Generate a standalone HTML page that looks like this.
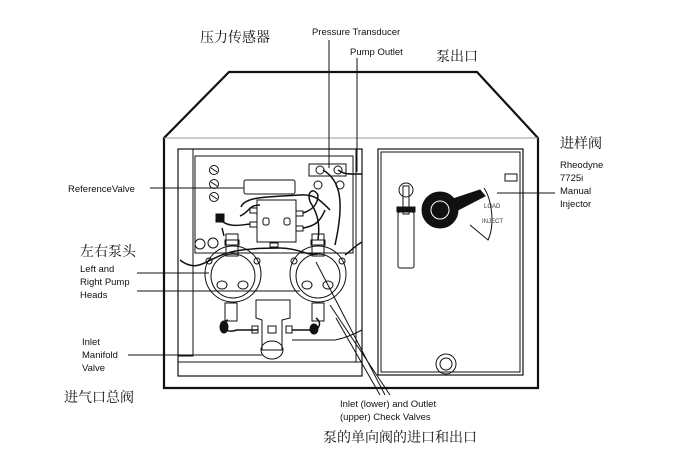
<!DOCTYPE html>
<html><head><meta charset="utf-8"><style>
html,body{margin:0;padding:0;background:#fff}
svg{display:block}
.t{font-family:"Liberation Sans",sans-serif;font-size:9.5px;fill:#111}
.s{font-family:"Liberation Sans",sans-serif;font-size:6px;fill:#333}
.c{font-family:"Liberation Serif","Noto Serif CJK SC",serif;font-size:14px;fill:#111}
</style></head><body>
<svg width="693" height="475" viewBox="0 0 693 475" xmlns="http://www.w3.org/2000/svg">
<g fill="none" stroke="#111" stroke-width="1">
<path d="M164,388 L164,138 L229,72 L477,72 L538,138 L538,388 Z" stroke-width="2.2"/>
<path d="M164,138 L538,138" stroke="#999"/>
<rect x="178" y="149" width="184" height="227" stroke-width="1.2"/>
<path d="M193,149 L193,356 L178,356"/>
<path d="M178,362 L362,362"/>
<path d="M356,149 L356,362"/>
<rect x="195" y="156" width="158" height="97"/>
<rect x="378" y="149" width="145" height="226" stroke-width="1.2"/>
<rect x="381" y="152" width="139" height="220"/>
<rect x="505" y="174" width="12" height="7"/>
<circle cx="214" cy="170" r="4.5"/><circle cx="214" cy="184" r="4.5"/><circle cx="214" cy="197" r="4.5"/>
<path d="M211,168 L217,172 M211,182 L217,186 M211,195 L217,199"/>
<rect x="244" y="180" width="51" height="14" rx="2"/>
<rect x="257" y="200" width="39" height="42"/>
<rect x="263" y="218" width="6" height="7" rx="2"/><rect x="284" y="218" width="6" height="7" rx="2"/>
<rect x="250" y="208" width="7" height="5"/><rect x="250" y="222" width="7" height="5"/>
<rect x="296" y="211" width="7" height="5"/><rect x="296" y="226" width="7" height="5"/>
<rect x="309" y="164" width="37" height="12"/>
<circle cx="320" cy="170" r="4"/><circle cx="338" cy="170" r="4"/>
<circle cx="318" cy="185" r="4"/><circle cx="340" cy="185" r="4"/>
<rect x="270" y="243" width="8" height="4"/>
<g stroke-width="1.5">
<path d="M240,216 C250,212 248,205 260,205"/>
<path d="M220,220 C230,228 240,225 250,224"/>
<path d="M241,207 C245,196 270,197 300,195 C315,194 320,200 330,210"/>
<path d="M323,170 C340,180 345,200 335,245"/>
<path d="M338,170 C345,175 350,174 362,174"/>
<path d="M303,213 C312,210 318,205 318,195 C312,185 305,195 312,205 C318,215 320,225 318,240"/>
<path d="M303,228 C315,226 320,222 325,210"/>
<path d="M180,260 C195,272 205,262 215,258 C230,250 250,248 280,248 C300,248 310,258 320,253"/>
<path d="M345,255 C352,250 356,245 362,242"/>
<path d="M224,236 L222,228 M219,222 L224,216"/>
</g>
<rect x="216" y="214" width="8" height="8" fill="#111"/>
<circle cx="233" cy="274" r="28"/><circle cx="233" cy="276" r="22"/>
<circle cx="318" cy="274" r="28"/><circle cx="318" cy="276" r="22"/>
<ellipse cx="222" cy="285" rx="5" ry="4"/><ellipse cx="243" cy="285" rx="5" ry="4"/>
<ellipse cx="307" cy="285" rx="5" ry="4"/><ellipse cx="328" cy="285" rx="5" ry="4"/>
<circle cx="209" cy="261" r="3"/><circle cx="257" cy="261" r="3"/><circle cx="294" cy="261" r="3"/><circle cx="342" cy="261" r="3"/>
<circle cx="200" cy="244" r="5"/><circle cx="213" cy="243" r="5"/>
<rect x="226" y="234" width="12" height="22"/><rect x="225" y="240" width="14" height="5"/>
<rect x="312" y="234" width="12" height="22"/><rect x="311" y="240" width="14" height="5"/>
<rect x="225" y="303" width="12" height="18"/><rect x="312" y="303" width="12" height="18"/>
<path d="M256,300 L290,300 L290,318 L282,320 L282,350 L262,350 L262,320 L256,318 Z"/>
<ellipse cx="272" cy="350" rx="11" ry="9"/>
<rect x="268" y="326" width="8" height="7"/>
<rect x="252" y="326" width="6" height="7"/><rect x="286" y="326" width="6" height="7"/>
<path d="M258,330 L237,330 C222,335 220,322 228,320 M292,330 L312,330 C320,330 322,322 316,318" stroke-width="1.5"/>
<ellipse cx="224" cy="327" rx="4" ry="6" fill="#111"/><ellipse cx="314" cy="329" rx="4" ry="5" fill="#111"/>
<path d="M292,340 L335,340 C345,338 352,335 362,330"/>
<circle cx="406" cy="190" r="7"/>
<rect x="403" y="186" width="6" height="28"/>
<rect x="397" y="207" width="18" height="5" fill="#111"/>
<rect x="398" y="212" width="16" height="56" rx="2"/>
<circle cx="440" cy="210" r="18" fill="#111"/>
<circle cx="440" cy="210" r="9" stroke="#fff"/>
<path d="M450,200 L480,190 L485,196 L454,212 Z" fill="#111"/>
<path d="M484,188 C492,200 495,225 488,240 L470,225"/>
<circle cx="446" cy="364" r="10"/><circle cx="446" cy="364" r="6"/>
<path d="M329,40 L329,168 M357,58 L357,172 M150,188 L244,188 M497,193 L555,193 M137,273 L209,273 M137,291 L300,291 M128,355 L262,355 M385,395 L316,262 M380,395 L336,318 M390,395 L330,305"/>
</g>
<text class="s" x="484" y="208">LOAD</text>
<text class="s" x="482" y="223">INJECT</text>
<text class="c" x="200" y="42">压力传感器</text>
<text class="t" x="312" y="35">Pressure Transducer</text>
<text class="t" x="350" y="55">Pump Outlet</text>
<text class="c" x="436" y="61">泵出口</text>
<text class="c" x="560" y="148">进样阀</text>
<text class="t" x="560" y="168">Rheodyne</text>
<text class="t" x="560" y="181">7725i</text>
<text class="t" x="560" y="194">Manual</text>
<text class="t" x="560" y="207">Injector</text>
<text class="t" x="68" y="192">ReferenceValve</text>
<text class="c" x="80" y="256">左右泵头</text>
<text class="t" x="80" y="272">Left and</text>
<text class="t" x="80" y="285">Right Pump</text>
<text class="t" x="80" y="298">Heads</text>
<text class="t" x="82" y="345">Inlet</text>
<text class="t" x="82" y="358">Manifold</text>
<text class="t" x="82" y="371">Valve</text>
<text class="c" x="64" y="402">进气口总阀</text>
<text class="t" x="340" y="407">Inlet (lower) and Outlet</text>
<text class="t" x="340" y="420">(upper) Check Valves</text>
<text class="c" x="323" y="442">泵的单向阀的进口和出口</text>
</svg>
</body></html>
